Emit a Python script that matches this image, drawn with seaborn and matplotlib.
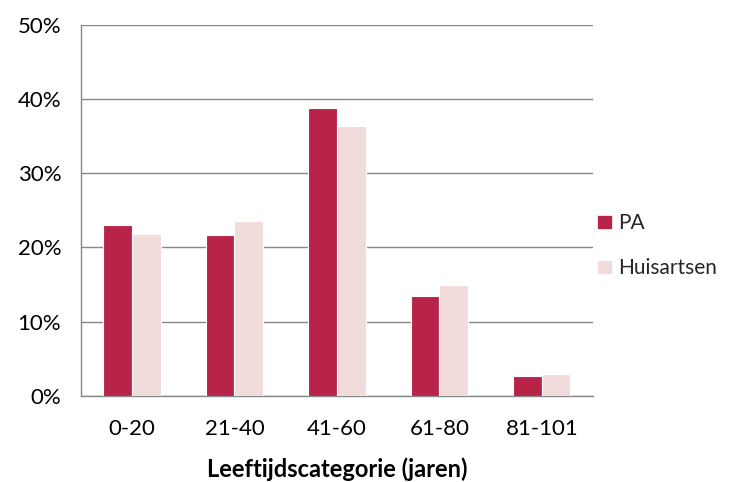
import numpy as np
import pandas as pd
import seaborn as sns
import matplotlib
matplotlib.use("Agg")
from matplotlib import pyplot as plt
from matplotlib.patches import Patch
from matplotlib.ticker import FixedLocator, PercentFormatter

# Data
categories = ['0-20', '21-40', '41-60', '61-80', '81-101']
pa = [23.0, 21.7, 38.8, 13.4, 2.7]
huisartsen = [21.8, 23.6, 36.3, 14.9, 2.9]
series = ['PA', 'Huisartsen']
colors = ['#B8234A', '#F2DCDB']

df = pd.DataFrame({
	'cat': categories * 2,
	'val': pa + huisartsen,
	'groep': [series[0]] * len(categories) + [series[1]] * len(categories),
})

sns.set_style('white')
plt.rcParams['font.family'] = ['Lato', 'DejaVu Sans']

fig = plt.figure(figsize=(7.31, 4.82), dpi=100)
ax = fig.add_axes([80.7 / 731, 1 - 395.7 / 482, (593 - 80.7) / 731, (395.7 - 24.7) / 482])

sns.barplot(data=df, x='cat', y='val', hue='groep', palette=colors, saturation=1, width=0.56,
	edgecolor='white', linewidth=0.8, ax=ax, legend=False, zorder=3)

grid_col = '#888888'
ax.set_ylim(0, 50)
ax.set_xlim(-0.5, 4.5)
ax.set_yticks(np.arange(0, 51, 10))
ax.yaxis.set_major_formatter(PercentFormatter(decimals=0))
ax.yaxis.grid(True, color=grid_col, linewidth=1)
ax.set_axisbelow(True)

for s in ['top', 'right']:
	ax.spines[s].set_visible(False)
for s in ['left', 'bottom']:
	ax.spines[s].set_color(grid_col)
	ax.spines[s].set_linewidth(1)

fs = 16
ax.tick_params(axis='y', length=8, color=grid_col, width=1, labelsize=fs, pad=6, labelcolor='black')
ax.tick_params(axis='x', which='major', length=0, labelsize=fs, pad=17, labelcolor='black')
ax.xaxis.set_minor_locator(FixedLocator(np.arange(-0.5, 5, 1)))
ax.tick_params(axis='x', which='minor', length=8, color=grid_col, width=1)

ax.set_xlabel('Leeftijdscategorie (jaren)', fontsize=17, fontweight='bold', labelpad=13, color='black')
ax.set_ylabel('')

handles = [Patch(facecolor=c, edgecolor='white', linewidth=0.5) for c in colors]
fig.legend(handles, series, loc='center left', bbox_to_anchor=(0.797, 0.49), frameon=False,
	fontsize=15, handlelength=0.7, handleheight=0.7, handletextpad=0.3, labelspacing=1.2,
	borderpad=0.2)

fig.savefig('out.png', dpi=100)
